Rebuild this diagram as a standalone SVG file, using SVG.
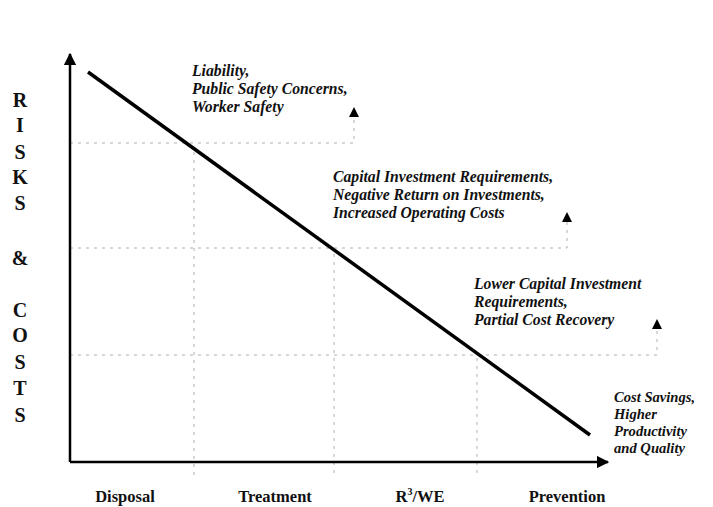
<svg xmlns="http://www.w3.org/2000/svg" width="713" height="507" viewBox="0 0 713 507">
<style>
.lbl{font-family:"Liberation Serif","Times New Roman",serif;font-weight:bold;font-style:italic;font-size:15.7px;fill:#111}
.sm{font-size:14.6px}
.ax{font-family:"Liberation Serif","Times New Roman",serif;font-weight:bold;font-size:16.5px;fill:#111;text-anchor:middle}
.side{font-family:"Liberation Serif","Times New Roman",serif;font-weight:bold;font-size:20px;fill:#111;text-anchor:middle}
.dot{stroke:#b0b0b0;stroke-width:1;stroke-dasharray:3 5;fill:none}
.axis{stroke:#000;stroke-width:2.5;fill:none}
</style>
<defs>
<marker id="ah" viewBox="0 0 10 10" refX="9" refY="5" markerWidth="5" markerHeight="5" orient="auto" markerUnits="strokeWidth"><path d="M0,0 L10,5 L0,10 z" fill="#000"/></marker>
<marker id="sm" viewBox="0 0 10 10" refX="5" refY="5" markerWidth="10" markerHeight="10" orient="auto" markerUnits="userSpaceOnUse"><path d="M0,0 L10,5 L0,10 z" fill="#000"/></marker>
</defs>
<rect width="713" height="507" fill="#fff"/>
<g id="connectors">
<path class="dot" d="M70,143 H354 V116"/>
<path class="dot" d="M70,248 H567 V221"/>
<path class="dot" d="M70,355 H657 V328"/>
<path class="dot" d="M194,152 V478"/>
<path class="dot" d="M334,254 V478"/>
<path class="dot" d="M477,358 V478"/>
<path d="M354,122 V112" stroke="none" fill="none" marker-end="url(#sm)"/>
<path d="M567,227 V217" stroke="none" fill="none" marker-end="url(#sm)"/>
<path d="M657,334 V324" stroke="none" fill="none" marker-end="url(#sm)"/>
<line x1="70" y1="462" x2="70" y2="54" class="axis" marker-end="url(#ah)"/>
<line x1="70" y1="462" x2="608" y2="462" class="axis" marker-end="url(#ah)"/>
<line x1="88" y1="72" x2="590" y2="435" stroke="#000" stroke-width="3.5"/>
</g>
<g id="label-disposal"><text class="lbl" x="192" y="76">Liability,</text><text class="lbl" x="192" y="94">Public Safety Concerns,</text><text class="lbl" x="192" y="112">Worker Safety</text></g>
<g id="label-treatment"><text class="lbl" x="333" y="182">Capital Investment Requirements,</text><text class="lbl" x="333" y="200">Negative Return on Investments,</text><text class="lbl" x="333" y="218">Increased Operating Costs</text></g>
<g id="label-r3we"><text class="lbl" x="474" y="289">Lower Capital Investment</text><text class="lbl" x="474" y="307">Requirements,</text><text class="lbl" x="474" y="325">Partial Cost Recovery</text></g>
<g id="label-prevention"><text class="lbl sm" x="614" y="402">Cost Savings,</text><text class="lbl sm" x="614" y="419">Higher</text><text class="lbl sm" x="614" y="436">Productivity</text><text class="lbl sm" x="614" y="453">and Quality</text></g>
<g id="x-labels">
<text class="ax" x="125" y="502">Disposal</text>
<text class="ax" x="275" y="502">Treatment</text>
<text class="ax" x="420" y="502">R<tspan font-size="10" dy="-7">3</tspan><tspan dy="7">/WE</tspan></text>
<text class="ax" x="567" y="502">Prevention</text>
</g>
<g id="y-label">
<text class="side" x="20" y="107">R</text>
<text class="side" x="20" y="132">I</text>
<text class="side" x="20" y="159">S</text>
<text class="side" x="20" y="184">K</text>
<text class="side" x="20" y="210">S</text>
<text class="side" x="20" y="265">&amp;</text>
<text class="side" x="20" y="317">C</text>
<text class="side" x="20" y="342">O</text>
<text class="side" x="20" y="369">S</text>
<text class="side" x="20" y="395">T</text>
<text class="side" x="20" y="422">S</text>
</g>
</svg>
